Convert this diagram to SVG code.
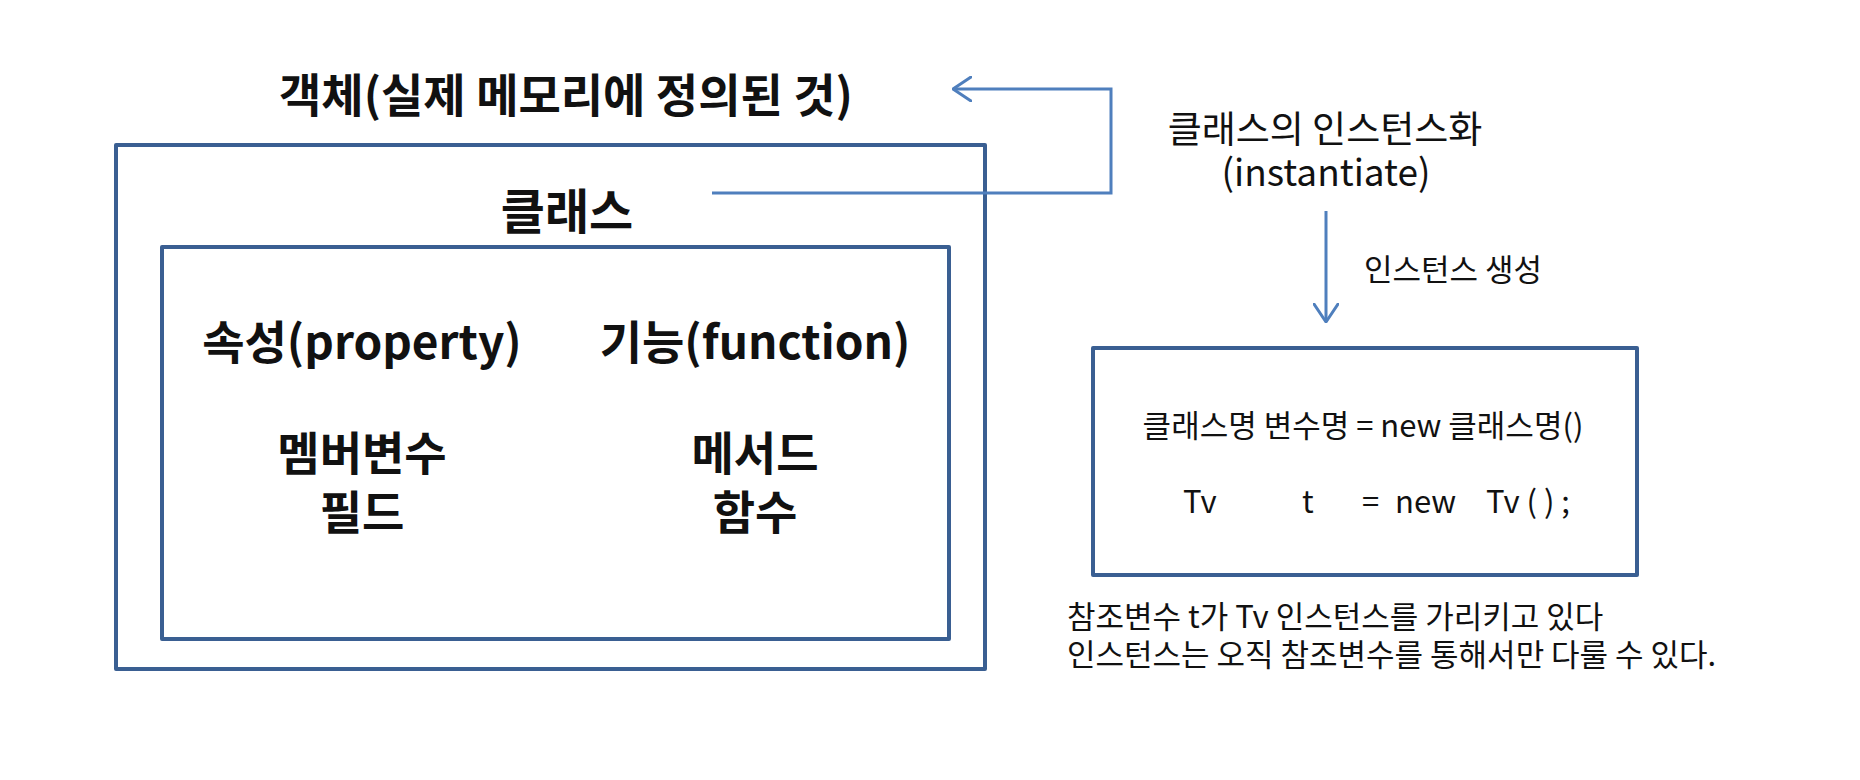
<svg xmlns="http://www.w3.org/2000/svg" width="1860" height="780" viewBox="0 0 1860 780">
<defs>
<marker id="open" viewBox="0 0 20 26" refX="19" refY="13" markerWidth="20" markerHeight="26" markerUnits="userSpaceOnUse" orient="auto">
<path d="M1,1 L19,13 L1,25" fill="none" stroke="#4f7fbd" stroke-width="3" stroke-linecap="round" stroke-linejoin="round"/>
</marker>
</defs>
<style>
.box{fill:none;stroke:#3a5f92;stroke-width:4;stroke-linejoin:round}
.conn{fill:none;stroke:#4f7fbd;stroke-width:3}
text{font-family:"Noto Sans CJK KR","Noto Sans",sans-serif;fill:#111}
.big{font-size:46px;font-weight:bold}
.cls{font-size:48px;font-weight:bold}
.mid{font-size:37px}
.small{font-size:31px}
.c{text-anchor:middle}
</style>
<rect width="1860" height="780" fill="#fff"/>
<g id="title"><text class="big c" x="566" y="112">객체(실제 메모리에 정의된 것)</text></g>
<g id="class-box">
<rect class="box" x="116" y="145" width="869" height="524"/>
<text class="cls c" x="567" y="229">클래스</text>
</g>
<g id="member-box">
<rect class="box" x="162" y="247" width="787" height="392"/>
<text class="big c" x="362" y="359">속성(property)</text>
<text class="big c" x="755" y="359">기능(function)</text>
<text class="big c" x="362" y="470">멤버변수</text>
<text class="big c" x="362" y="529">필드</text>
<text class="big c" x="755" y="470">메서드</text>
<text class="big c" x="755" y="529">함수</text>
</g>
<g id="instantiate-label">
<text class="mid c" x="1325" y="143">클래스의 인스턴스화</text>
<text class="mid c" x="1326" y="186">(instantiate)</text>
</g>
<g id="create-label"><text class="small" x="1364" y="281">인스턴스 생성</text></g>
<g id="instance-box">
<rect class="box" x="1093" y="348" width="544" height="227"/>
<text class="small c" x="1363" y="437">클래스명 변수명 = new 클래스명()</text>
<text class="small" y="513"><tspan x="1183">Tv</tspan><tspan x="1302">t</tspan><tspan x="1362">=</tspan><tspan x="1395">new</tspan><tspan x="1486">Tv ( ) ;</tspan></text>
</g>
<g id="note">
<text class="small" x="1067" y="628">참조변수 t가 Tv 인스턴스를 가리키고 있다</text>
<text class="small" x="1067" y="666">인스턴스는 오직 참조변수를 통해서만 다룰 수 있다.</text>
</g>
<g id="connectors">
<path class="conn" d="M712,193 H1111 V89 H953" marker-end="url(#open)"/>
<path class="conn" d="M1326,211 V322" marker-end="url(#open)"/>
</g>
</svg>
